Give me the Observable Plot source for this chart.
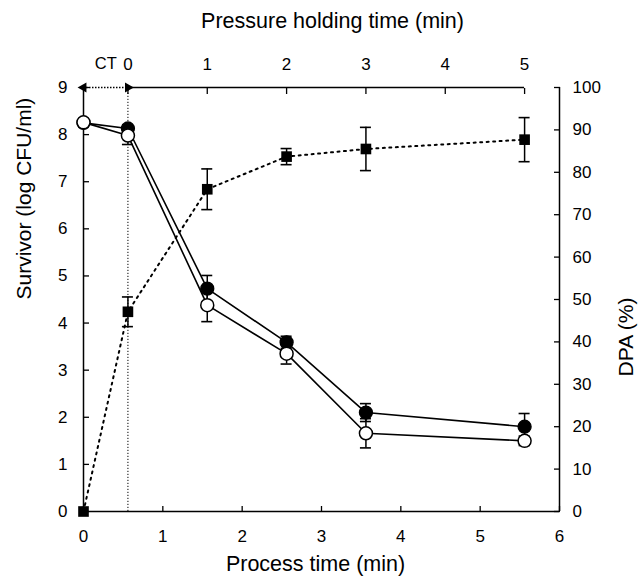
<!DOCTYPE html>
<html><head><meta charset="utf-8">
<script src="https://cdn.jsdelivr.net/npm/d3@7"></script>
<script src="https://cdn.jsdelivr.net/npm/@observablehq/plot@0.6"></script>
<style>body{margin:0;background:#fff} svg{font-family:"Liberation Sans",Arial,sans-serif}</style>
</head><body><div id="chart"></div>
<script>
// Process time (min) of each sample
const processTime = [0, 0.56, 1.56, 2.56, 3.56, 5.56];
// come-up time (CT) offset: pressure holding time 0 starts here
const ct = 0.56;
const processTicks = [0, 1, 2, 3, 4, 5, 6];
const holdingTicks = [0, 1, 2, 3, 4, 5];
const survivorTicks = [0, 1, 2, 3, 4, 5, 6, 7, 8, 9];
const dpaTicks = [0, 10, 20, 30, 40, 50, 60, 70, 80, 90, 100];
// Survivors (log CFU/ml), filled circles
const survivorFilled = [8.25, 8.13, 4.73, 3.59, 2.10, 1.80];
const survivorFilledErr = [0, 0.08, 0.28, 0.13, 0.19, 0.28];
// Survivors (log CFU/ml), open circles
const survivorOpen = [8.26, 7.98, 4.38, 3.35, 1.66, 1.50];
const survivorOpenErr = [0, 0.19, 0.35, 0.22, 0.31, 0.10];
// DPA release (%), filled squares
const dpa = [0, 47.1, 76.0, 83.7, 85.5, 87.7];
const dpaErr = [0, 3.5, 4.8, 1.9, 5.1, 5.2];

const k = 9 / 100; // DPA 0-100 shares the survivor 0-9 y scale
const rows = processTime.map((t, i) => ({
  t,
  f: survivorFilled[i], fe: survivorFilledErr[i],
  o: survivorOpen[i], oe: survivorOpenErr[i],
  d: dpa[i] * k, de: dpaErr[i] * k
}));
const fErr = rows.filter(d => d.fe > 0);
const oErr = rows.filter(d => d.oe > 0);
const dErr = rows.filter(d => d.de > 0);

const fs = 17;
const chart = Plot.plot({
  width: 643, height: 579,
  marginLeft: 83, marginRight: 84, marginTop: 87, marginBottom: 68,
  x: {domain: [0, 6]},
  y: {domain: [0, 9]},
  style: {fontFamily: '"Liberation Sans", Arial, sans-serif', background: "white"},
  marks: [
    // axes (inward ticks)
    Plot.axisY(survivorTicks, {anchor: "left", tickSize: -6, tickPadding: 22, fontSize: fs, label: null, strokeWidth: 1.3}),
    Plot.axisY(dpaTicks.map(v => v * k), {anchor: "right", tickSize: -6, tickPadding: 19, fontSize: fs, label: null, tickFormat: v => Math.round(v / k), strokeWidth: 1.3}),
    Plot.axisX(processTicks, {anchor: "bottom", tickSize: -5, tickPadding: 23, fontSize: fs, label: null, strokeWidth: 1.3}),
    Plot.axisX(holdingTicks.map(h => h + ct), {anchor: "top", tickSize: -6, tickPadding: 24, fontSize: fs, label: null, tickFormat: v => Math.round(v - ct), strokeWidth: 1.3}),
    // frame lines
    Plot.ruleX([0, 6], {y1: 0, y2: 9, strokeWidth: 1.5}),
    Plot.ruleY([0], {x1: 0, x2: 6, strokeWidth: 1.5}),
    Plot.ruleY([9], {x1: ct, x2: ct + 5, strokeWidth: 1.5}),
    // CT marker
    Plot.ruleX([ct], {y1: 0, y2: 9, strokeWidth: 1, strokeDasharray: "1.2,1.8"}),
    Plot.ruleY([9], {x1: 0, x2: ct, strokeWidth: 1.3, strokeDasharray: "1.5,1.5"}),
    Plot.dot([{x: 0, a: -90}, {x: ct, a: 90}], {x: "x", y: 9, rotate: "a", symbol: "triangle", r: 3.8, fill: "black", stroke: "none"}),
    Plot.text(["CT"], {x: ct / 2, y: 9, dy: -24, fontSize: 16.5}),
    // DPA
    Plot.line(rows, {x: "t", y: "d", strokeWidth: 2, strokeDasharray: "2,4.5"}),
    Plot.ruleX(dErr, {x: "t", y1: d => d.d - d.de, y2: d => d.d + d.de, strokeWidth: 1.5}),
    Plot.ruleY(dErr, {x1: "t", x2: "t", y: d => d.d - d.de, insetLeft: -5.5, insetRight: -5.5, strokeWidth: 1.6}),
    Plot.ruleY(dErr, {x1: "t", x2: "t", y: d => d.d + d.de, insetLeft: -5.5, insetRight: -5.5, strokeWidth: 1.6}),
    Plot.dot(rows, {x: "t", y: "d", symbol: "square", r: 6, fill: "black"}),
    // survivors
    Plot.line(rows, {x: "t", y: "f", strokeWidth: 1.6}),
    Plot.line(rows, {x: "t", y: "o", strokeWidth: 1.6}),
    Plot.ruleX(fErr, {x: "t", y1: d => d.f - d.fe, y2: d => d.f + d.fe, strokeWidth: 1.5}),
    Plot.ruleY(fErr, {x1: "t", x2: "t", y: d => d.f + d.fe, insetLeft: -5.5, insetRight: -5.5, strokeWidth: 1.6}),
    Plot.ruleY(fErr, {x1: "t", x2: "t", y: d => d.f - d.fe, insetLeft: -5.5, insetRight: -5.5, strokeWidth: 1.6}),
    Plot.ruleX(oErr, {x: "t", y1: d => d.o - d.oe, y2: d => d.o + d.oe, strokeWidth: 1.5}),
    Plot.ruleY(oErr, {x1: "t", x2: "t", y: d => d.o + d.oe, insetLeft: -5.5, insetRight: -5.5, strokeWidth: 1.6}),
    Plot.ruleY(oErr, {x1: "t", x2: "t", y: d => d.o - d.oe, insetLeft: -5.5, insetRight: -5.5, strokeWidth: 1.6}),
    Plot.dot(rows, {x: "t", y: "f", r: 6.5, fill: "black", stroke: "black", strokeWidth: 1.3}),
    Plot.dot(rows, {x: "t", y: "o", r: 6.5, fill: "white", stroke: "black", strokeWidth: 1.5}),
    // titles
    Plot.text(["Pressure holding time (min)"], {frameAnchor: "top", dx: 11, dy: -75, fontSize: 21.5}),
    Plot.text(["Process time (min)"], {frameAnchor: "bottom", dx: -6, dy: 59, fontSize: 21.5}),
    Plot.text(["Survivor (log CFU/ml)"], {frameAnchor: "left", dx: -59, rotate: -90, fontSize: 21}),
    Plot.text(["DPA (%)"], {frameAnchor: "right", dx: 67, dy: -2, rotate: -90, fontSize: 21})
  ]
});
document.getElementById("chart").append(chart);
</script>
</body></html>
